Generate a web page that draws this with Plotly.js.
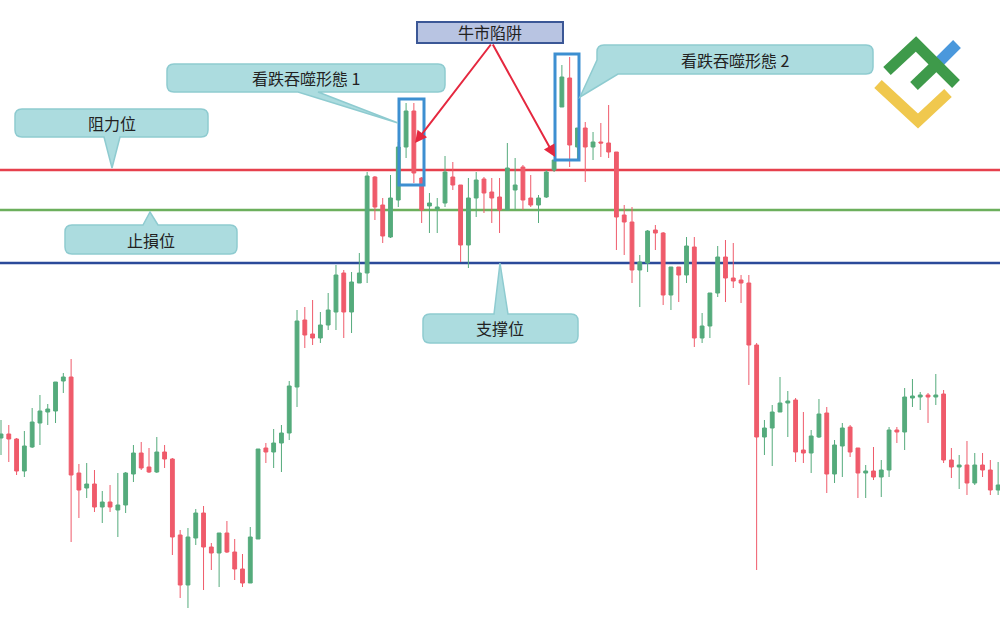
<!DOCTYPE html>
<html>
<head>
<meta charset="utf-8">
<script src="https://cdn.plot.ly/plotly-3.0.1.min.js"></script>
<style>html,body{margin:0;padding:0;background:#fff;}#chart{width:1000px;height:618px;}</style>
</head>
<body>
<div id="chart"></div>
<script>
// Price readings (points), one entry per candle, left to right
const open = [180,184,179,147,171,195,206,207,237,241,145,130,134,111,116,108,113,144,165,151,146,166,159,83,33,80,105,71,65,85,66,49,35,79,170,166,175,185,231,298,284,280,293,306,345,306,335,345,441,413,381,418,471,507,440,412,409,415,441,433,373,420,439,426,421,408,428,451,420,413,421,448,511,540,471,490,471,476,475,466,403,396,348,355,388,385,323,351,343,371,280,292,325,361,340,338,335,273,181,190,206,215,218,168,165,181,205,144,172,191,170,145,147,141,148,188,186,220,221,223,221,224,158,151,153,135,153,148,128];
const high = [198,193,180,187,210,223,214,236,245,259,154,155,148,127,133,145,146,173,176,170,181,173,160,88,90,109,112,75,85,97,79,64,91,169,175,189,193,237,308,311,318,306,325,353,348,346,365,446,442,420,443,476,515,515,441,425,420,462,456,433,440,446,441,440,440,475,460,453,443,423,448,458,553,561,490,496,486,495,513,466,413,411,363,388,393,386,351,351,381,381,305,325,372,378,375,343,343,275,198,213,241,227,220,206,188,219,211,178,195,193,170,153,171,158,191,191,230,239,226,225,244,228,170,163,177,165,165,158,156];
const low = [163,156,143,141,170,173,193,195,225,76,100,120,106,95,106,81,105,136,148,145,145,150,63,20,10,73,28,48,31,65,38,31,35,79,155,150,146,178,211,270,273,275,288,288,280,285,335,335,398,375,380,411,460,435,395,385,385,411,428,356,350,401,405,395,385,408,408,408,411,395,420,446,511,451,458,436,458,461,460,368,363,335,311,346,368,313,308,316,335,271,275,280,321,316,330,315,233,48,163,152,206,181,156,155,145,180,125,135,141,161,120,120,138,121,141,175,168,211,208,195,213,155,140,129,123,133,141,123,123];
const close = [184,179,147,172,196,207,209,236,241,143,128,134,111,116,111,113,145,165,150,146,166,159,81,33,81,105,71,65,85,66,49,35,81,169,166,175,185,232,297,283,280,293,308,343,306,336,345,442,411,382,420,471,507,445,408,415,411,446,433,373,420,438,425,420,408,450,433,418,413,420,446,458,541,473,490,471,476,475,466,401,396,348,356,387,385,323,351,343,372,280,292,325,361,340,337,335,273,181,190,206,215,217,166,165,182,204,144,173,190,166,145,147,141,148,188,186,221,222,223,221,223,158,151,153,135,153,148,128,133];
const day = open.map((_, i) => i);

// Horizontal levels (points)
const resistanceLevel = 448;
const stopLevel = 408;
const supportLevel = 355;

// Label texts
const labelResistance = '阻力位';
const labelStop = '止損位';
const labelSupport = '支撑位';
const labelEngulf1 = '看跌吞噬形態 1';
const labelEngulf2 = '看跌吞噬形態 2';
const labelTrap = '牛市陷阱';

const W = 1000, H = 618;
const X = px => px / W;
const Y = py => 1 - py / H;
const P = (x, y) => X(x).toFixed(5) + ',' + Y(y).toFixed(5);

function callout(x0, y0, x1, y1, r, tail) {
  let d = 'M' + P(x0 + r, y0);
  if (tail && tail.side === 'top') d += ' L' + P(tail.a, y0) + ' L' + P(tail.tx, tail.ty) + ' L' + P(tail.b, y0);
  d += ' L' + P(x1 - r, y0) + ' Q' + P(x1, y0) + ' ' + P(x1, y0 + r);
  d += ' L' + P(x1, y1 - r) + ' Q' + P(x1, y1) + ' ' + P(x1 - r, y1);
  if (tail && tail.side === 'bottom') d += ' L' + P(tail.b, y1) + ' L' + P(tail.tx, tail.ty) + ' L' + P(tail.a, y1);
  if (tail && tail.side === 'corner') {
    d += ' L' + P(tail.a, y1) + ' L' + P(tail.tx, tail.ty) + ' L' + P(x0, tail.b);
  } else {
    d += ' L' + P(x0 + r, y1) + ' Q' + P(x0, y1) + ' ' + P(x0, y1 - r);
  }
  d += ' L' + P(x0, y0 + r) + ' Q' + P(x0, y0) + ' ' + P(x0 + r, y0) + ' Z';
  return {type: 'path', xref: 'paper', yref: 'paper', path: d,
          fillcolor: '#acdcdf', line: {color: '#8ecbd0', width: 1.5}, layer: 'above'};
}
function poly(pts, color, width) {
  const d = pts.map((p, i) => (i ? 'L' : 'M') + P(p[0], p[1])).join(' ');
  return {type: 'path', xref: 'paper', yref: 'paper', path: d,
          line: {color: color, width: width}, fillcolor: 'rgba(0,0,0,0)', layer: 'above'};
}
function rect(x0, y0, x1, y1, color, width, fill) {
  return {type: 'rect', xref: 'paper', yref: 'paper', x0: X(x0), x1: X(x1), y0: Y(y1), y1: Y(y0),
          line: {color: color, width: width}, fillcolor: fill || 'rgba(0,0,0,0)', layer: 'above'};
}
function hline(level, color) {
  return {type: 'line', xref: 'paper', yref: 'y', x0: 0, x1: 1, y0: level, y1: level,
          line: {color: color, width: 2.5}, layer: 'below'};
}

const GREEN = '#55ab7c', RED = '#ef5b6b';
const trace = {
  type: 'candlestick', x: day, open: open, high: high, low: low, close: close,
  increasing: {line: {color: GREEN, width: 1}, fillcolor: GREEN},
  decreasing: {line: {color: RED, width: 1}, fillcolor: RED},
  whiskerwidth: 0, hoverinfo: 'none'
};

const font = {family: 'Noto Sans CJK TC, Noto Sans CJK SC, sans-serif', size: 16, color: '#222'};
function label(text, cx, cy, size) {
  return {text: text, xref: 'paper', yref: 'paper', x: X(cx), y: Y(cy), xanchor: 'center', yanchor: 'middle',
          showarrow: false, font: Object.assign({}, font, {size: size || 16})};
}
function arrow(hx, hy, tx, ty) {
  return {text: '', xref: 'paper', yref: 'paper', x: X(hx), y: Y(hy), ax: tx - hx, ay: ty - hy,
          axref: 'pixel', ayref: 'pixel', showarrow: true, arrowhead: 2, arrowsize: 1.2, arrowwidth: 2,
          arrowcolor: '#e5283f', standoff: 0, startstandoff: 0};
}

const shapes = [
  hline(resistanceLevel, '#e6404d'),
  hline(stopLevel, '#6caf5c'),
  hline(supportLevel, '#2b4a9a'),
  rect(399, 99, 424, 185, '#3d8fd1', 3),
  rect(555, 54, 579, 160, '#3d8fd1', 3),
  callout(15, 109, 208, 137, 7, {side: 'bottom', a: 104, b: 120, tx: 112, ty: 168}),
  callout(65, 225, 237, 254, 7, {side: 'top', a: 143, b: 158, tx: 150, ty: 212}),
  callout(423, 314, 578, 343, 7, {side: 'top', a: 494, b: 508, tx: 500, ty: 263}),
  callout(167, 64, 445, 92, 7, {side: 'bottom', a: 298, b: 318, tx: 398, ty: 123}),
  callout(597, 45, 873, 74, 7, {side: 'corner', a: 618, b: 60, tx: 580, ty: 97}),
  rect(417, 22, 563, 43, '#3b5796', 2, '#b8c4e2'),
  // logo
  poly([[878, 84], [918, 121], [948, 93]], '#f0c84e', 11),
  poly([[938, 63], [957, 44]], '#4a98dc', 11),
  poly([[887, 71], [916, 44], [956, 84]], '#3e9a4a', 11),
  poly([[914, 86], [939, 62]], '#3e9a4a', 11)
];

const annotations = [
  arrow(415, 143, 492, 43),
  arrow(555, 157, 492, 43),
  label(labelResistance, 112, 123),
  label(labelStop, 151, 240),
  label(labelSupport, 500, 328),
  label(labelEngulf1, 306, 78),
  label(labelEngulf2, 735, 60),
  label(labelTrap, 490, 32)
];

const layout = {
  width: W, height: H, margin: {l: 0, r: 0, t: 0, b: 0},
  paper_bgcolor: '#fff', plot_bgcolor: '#fff', showlegend: false, boxgap: 0.3,
  xaxis: {range: [-0.128, 128.24], visible: false, rangeslider: {visible: false}, fixedrange: true},
  yaxis: {range: [0, 618], visible: false, fixedrange: true},
  shapes: shapes, annotations: annotations
};

Plotly.newPlot('chart', [trace], layout, {displayModeBar: false, staticPlot: true});
</script>
</body>
</html>
